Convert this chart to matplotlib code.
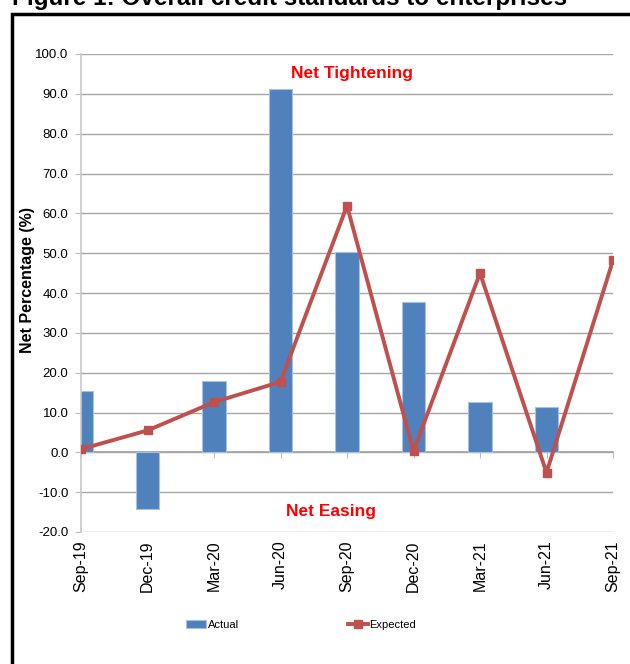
import matplotlib
matplotlib.use("Agg")
import matplotlib.pyplot as plt
from matplotlib.patches import Rectangle

quarters = ["Sep-19", "Dec-19", "Mar-20", "Jun-20", "Sep-20",
            "Dec-20", "Mar-21", "Jun-21", "Sep-21"]
actual = [15.5, -14.3, 17.9, 91.1, 50.4, 37.8, 12.6, 11.5, None]
expected = [0.8, 5.5, 12.6, 17.7, 61.9, 0.3, 45.0, -5.1, 48.2]
y_ticks = [-20, -10, 0, 10, 20, 30, 40, 50, 60, 70, 80, 90, 100]

plt.rcParams["font.family"] = ["Liberation Sans", "DejaVu Sans"]

BAR = "#4f81bd"
LINE = "#c0504d"
GRID = "#a6a6a6"

W, H = 630, 664
fig = plt.figure(figsize=(W / 100, H / 100), dpi=100)
ax = fig.add_axes([81 / W, 1 - 532 / H, (613 - 81) / W, (532 - 54) / H])

x = list(range(len(quarters)))
bx = [i for i, v in zip(x, actual) if v is not None]
bv = [v for v in actual if v is not None]
bars = ax.bar(bx, bv, width=0.36, color=BAR, edgecolor="#a9c1e0",
              linewidth=0.8, label="Actual", zorder=2)
line, = ax.plot(x, expected, color=LINE, lw=2.8, marker="s", ms=5.5,
                label="Expected", zorder=3)

ax.set_xlim(0, 8)
ax.set_ylim(-20, 100)
ax.set_yticks(y_ticks)
ax.set_yticklabels([f"{v:.1f}" for v in y_ticks], fontsize=9.5)
ax.yaxis.grid(True, color=GRID, lw=1)
ax.set_axisbelow(True)
ax.tick_params(axis="y", length=4, color="#bfbfbf", pad=5)

for s in ["top", "right", "bottom"]:
    ax.spines[s].set_visible(False)
ax.spines["left"].set_color("#c8c8c8")
ax.spines["left"].set_linewidth(1.2)

ax.set_xticks(x)
ax.set_xticklabels(quarters, rotation=90, fontsize=11.5)
ax.tick_params(axis="x", length=0, pad=6)

# category ticks on the zero line
zero_axis = ax.secondary_xaxis(20 / 120)
zero_axis.set_xticks(x)
zero_axis.set_xticklabels([])
zero_axis.tick_params(length=4, color="#bfbfbf", direction="out")
zero_axis.spines["bottom"].set_color("#a0a0a0")
zero_axis.spines["bottom"].set_linewidth(1.2)
zero_axis.spines["top"].set_visible(False)

ax.set_ylabel("Net Percentage (%)", fontsize=11.5, fontweight="bold")
ax.yaxis.set_label_coords(-0.086, 0.527)

ax.text(4.07, 95.0, "Net Tightening", color="red", fontsize=12.5,
        fontweight="bold", ha="center", va="center")
ax.text(3.76, -14.8, "Net Easing", color="red", fontsize=12.5,
        fontweight="bold", ha="center", va="center")

fig.legend(handles=[bars, line], loc="center", ncol=2,
           bbox_to_anchor=(301 / W, 1 - 625 / H), frameon=False,
           fontsize=8, handlelength=1.8, handletextpad=0.15,
           columnspacing=9.8)

fig.text(12 / W, 1 - 5 / H, "Figure 1: Overall credit standards to enterprises",
         fontsize=17.5, fontweight="bold", ha="left", va="baseline")

fig.patches.append(Rectangle((12 / W, -0.1), 2, 1 - 14 / H + 0.1,
                             transform=fig.transFigure, fill=False,
                             edgecolor="black", lw=2.5))

fig.savefig("out.png", dpi=100)
